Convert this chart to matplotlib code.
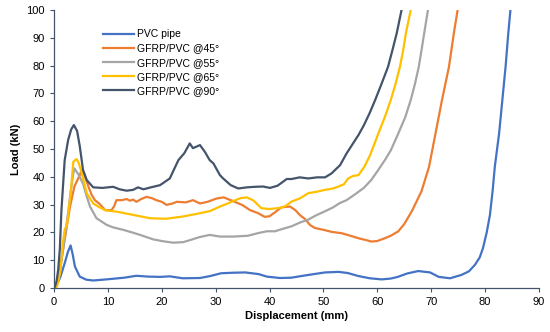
import matplotlib
matplotlib.use("Agg")
import matplotlib.pyplot as plt

plt.rcParams['font.family'] = ['Liberation Sans', 'DejaVu Sans']

# PVC pipe
pvc_x = [0, 0.4, 1.2, 2.0, 2.6, 3.1, 3.5, 3.9, 4.8, 6.0, 7.3, 10.3, 13.0, 15.3, 17.5, 19.7, 21.5, 23.9, 27.1, 29.0,
         31.0, 33.3, 35.5, 38.0, 39.5, 41.9, 44.0, 47.2, 50.3, 52.8, 54.5, 56.5, 58.6, 60.8, 62.5, 63.8, 65.5,
         67.6, 69.8, 71.4, 73.5, 75.6, 77.0, 78.1, 79.0, 79.6, 80.3, 80.9, 81.4, 81.8, 82.6, 83.2, 83.8, 84.3, 84.7]
pvc_y = [0, 0.6, 4.0, 8.9, 13.0, 15.3, 12.0, 7.7, 4.1, 3.0, 2.7, 3.2, 3.7, 4.4, 4.1, 4.0, 4.2, 3.5, 3.6, 4.3,
         5.3, 5.5, 5.6, 5.0, 4.1, 3.6, 3.7, 4.7, 5.6, 5.8, 5.4, 4.3, 3.5, 3.1, 3.4, 4.0, 5.2,
         6.1, 5.6, 4.0, 3.5, 4.7, 6.0, 8.3, 11.0, 14.3, 20.0, 26.3, 35.0, 43.6, 55.6, 67.6, 79.6, 91.6, 100]

# GFRP/PVC @45°
g45_x = [0, 0.4, 1.0, 1.7, 2.3, 3.0, 3.8, 4.8, 5.1, 5.6, 6.4, 7.0, 7.6, 8.5, 9.5, 10.7, 11.2, 11.6, 12.6, 13.5,
         14.1, 14.7, 15.3, 16.2, 17.2, 18.2, 19.0, 20.0, 20.9, 22.0, 22.8, 24.5, 25.8, 27.1, 28.5, 30.2,
         31.5, 33.3, 35.0, 36.4, 37.8, 39.1, 40.0, 41.0, 42.2, 43.8, 44.8, 45.6, 46.6, 47.5, 48.4, 50.3,
         51.5, 53.4, 55.0, 56.5, 58.0, 58.9, 60.0, 61.4, 62.6, 63.9, 65.0, 66.4, 68.2, 69.6, 70.8, 72.0,
         73.3, 74.2, 74.9]
g45_y = [0, 0.6, 5.0, 13.8, 21.0, 29.3, 36.5, 40.6, 42.2, 41.0, 36.5, 33.5, 31.6, 30.2, 28.0, 28.0, 29.5, 31.6, 31.6, 32.0,
         31.4, 31.8, 31.0, 32.0, 32.8, 32.3, 31.6, 31.0, 29.9, 30.4, 31.0, 30.8, 31.6, 30.4, 31.0, 32.2,
         32.6, 31.2, 29.8, 28.0, 27.0, 25.6, 25.8, 27.2, 29.0, 29.3, 28.0, 26.3, 24.8, 22.7, 21.6, 20.8,
         20.2, 19.7, 18.8, 17.9, 17.2, 16.7, 16.9, 17.9, 18.9, 20.4, 23.0, 27.6, 34.8, 43.6, 55.6, 67.6,
         79.6, 91.6, 100]

# GFRP/PVC @55°
g55_x = [0, 0.4, 1.0, 1.7, 2.7, 3.2, 3.6, 3.8, 4.5, 5.4, 6.0, 6.7, 7.9, 9.8, 11.0, 12.9, 14.5, 16.0, 18.4, 20.0,
         22.1, 24.0, 25.2, 27.0, 28.9, 30.8, 33.3, 36.0, 38.0, 39.5, 41.0, 42.5, 44.1, 45.6, 47.2, 48.5,
         50.3, 51.8, 53.0, 54.3, 55.8, 57.5, 58.9, 60.2, 61.4, 62.5, 63.9, 65.2, 66.2, 67.0, 67.7, 68.2,
         68.7, 69.4]
g55_y = [0, 0.6, 5.0, 13.8, 28.0, 36.0, 41.2, 43.0, 41.0, 37.6, 33.5, 29.3, 25.1, 22.7, 21.8, 20.9, 20.0, 19.1, 17.5, 16.9,
         16.3, 16.5, 17.2, 18.3, 19.1, 18.5, 18.5, 18.8, 19.8, 20.4, 20.4, 21.3, 22.2, 23.5, 24.6, 26.0,
         27.6, 29.0, 30.5, 31.6, 33.6, 36.0, 38.9, 42.5, 46.0, 49.5, 55.6, 61.5, 67.6, 73.5, 79.6, 85.5,
         91.6, 100]

# GFRP/PVC @65°
g65_x = [0, 0.6, 1.2, 1.6, 2.0, 2.4, 2.7, 3.2, 3.6, 4.2, 4.6, 5.1, 6.1, 7.3, 8.3, 9.5, 11.8, 14.7, 17.8, 20.8,
         23.9, 27.1, 29.0, 30.8, 32.0, 33.3, 34.6, 35.8, 37.0, 38.5, 40.0, 41.9, 43.0, 44.1, 45.6, 47.2,
         48.7, 50.3, 51.8, 52.8, 53.8, 54.6, 55.5, 56.5, 57.6, 58.6, 59.4, 60.2, 61.4, 62.5, 63.4, 64.2,
         64.8, 65.3, 66.2]
g65_y = [0, 0.6, 6.0, 15.0, 21.0, 22.5, 27.0, 36.0, 45.4, 46.4, 45.0, 41.8, 34.0, 30.4, 29.2, 28.0, 27.4, 26.3, 25.1, 24.9,
         25.7, 26.9, 27.7, 29.3, 30.2, 31.3, 32.3, 32.6, 31.5, 28.7, 28.4, 28.8, 29.5, 31.1, 32.2, 34.1,
         34.6, 35.3, 35.8, 36.5, 37.3, 39.4, 40.3, 40.6, 43.6, 47.5, 51.5, 55.6, 61.5, 67.6, 73.5, 79.6,
         85.5, 91.6, 100]

# GFRP/PVC @90°
g90_x = [0, 0.2, 0.5, 0.8, 1.1, 1.4, 2.0, 2.65, 3.2, 3.7, 4.3, 4.8, 5.4, 6.1, 7.3, 9.0, 11.0, 12.2, 13.5, 14.7,
         15.6, 16.6, 18.0, 19.7, 21.5, 23.1, 24.2, 25.2, 25.8, 27.1, 28.0, 28.9, 29.6, 30.8, 31.4, 32.8,
         34.2, 35.8, 37.3, 38.8, 40.1, 41.5, 43.2, 44.1, 45.6, 47.2, 48.8, 50.3, 51.5, 53.1, 54.3, 55.5,
         56.5, 57.5, 58.6, 59.6, 60.8, 62.0, 62.8, 63.6, 64.5]
g90_y = [0, 0.5, 2.5, 6.6, 14.0, 28.0, 46.0, 53.3, 57.0, 58.6, 56.5, 51.0, 42.5, 38.8, 36.2, 36.0, 36.4, 35.5, 35.0, 35.3,
         36.2, 35.5, 36.2, 37.0, 39.4, 46.0, 48.5, 52.0, 50.3, 51.4, 49.0, 46.0, 44.8, 40.6, 39.4, 37.0,
         35.8, 36.2, 36.4, 36.5, 36.0, 36.8, 39.2, 39.2, 39.8, 39.4, 39.8, 39.8, 41.2, 44.2, 48.4, 52.0,
         55.0, 58.5, 63.0, 67.6, 73.5, 79.6, 85.5, 91.6, 100]

series = [
    ("PVC pipe", pvc_x, pvc_y, "#4472C4"),
    ("GFRP/PVC @45°", g45_x, g45_y, "#ED7D31"),
    ("GFRP/PVC @55°", g55_x, g55_y, "#A5A5A5"),
    ("GFRP/PVC @65°", g65_x, g65_y, "#FFC000"),
    ("GFRP/PVC @90°", g90_x, g90_y, "#44546A"),
]

x_ticks = [0, 10, 20, 30, 40, 50, 60, 70, 80, 90]
y_ticks = [0, 10, 20, 30, 40, 50, 60, 70, 80, 90, 100]

fig = plt.figure(figsize=(5.5, 3.32), dpi=100)
ax = fig.add_axes([0.098, 0.1325, 0.882, 0.8375])

for label, xs, ys, c in series:
    ax.plot(xs, ys, color=c, lw=1.6, label=label, solid_joinstyle='round')

ax.set_xlim(0, 90)
ax.set_ylim(0, 100)
ax.set_xticks(x_ticks)
ax.set_yticks(y_ticks)
for s in ['top', 'right']:
    ax.spines[s].set_visible(False)
spine_c = "#44546A"
for s in ['left', 'bottom']:
    ax.spines[s].set_color(spine_c)
    ax.spines[s].set_linewidth(0.9)
ax.tick_params(axis='both', colors=spine_c, labelcolor='black', labelsize=8, length=3, width=0.8, direction='out')

ax.set_xlabel("Displacement (mm)", fontsize=8, fontweight='bold', labelpad=3)
ax.set_ylabel("Load (kN)", fontsize=8, fontweight='bold', labelpad=4)

leg = ax.legend(loc='upper left', bbox_to_anchor=(0.092, 0.945), frameon=False, fontsize=7.5,
                handlelength=3.0, handletextpad=0.3, labelspacing=0.4, borderaxespad=0)

fig.savefig("out.png", dpi=100)
